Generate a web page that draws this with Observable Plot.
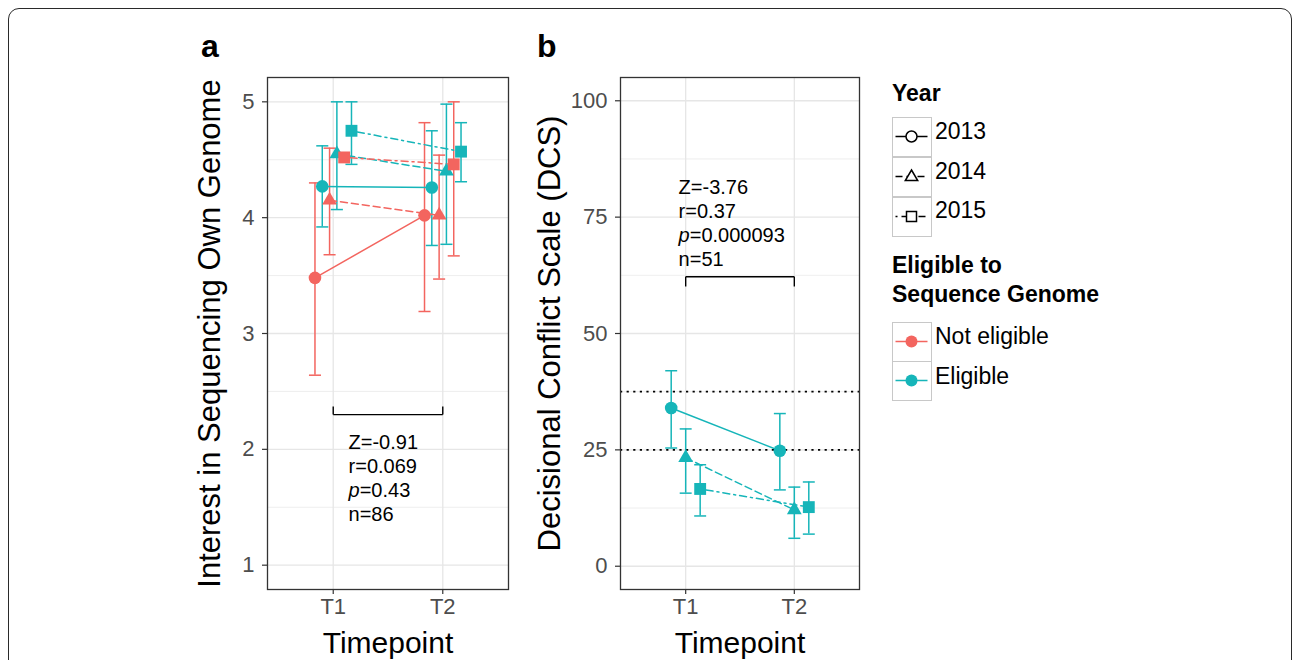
<!DOCTYPE html>
<html>
<head>
<meta charset="utf-8">
<script src="https://cdn.jsdelivr.net/npm/d3@7"></script>
<script src="https://cdn.jsdelivr.net/npm/@observablehq/plot@0.6"></script>
<style>
  html, body { margin: 0; padding: 0; background: #fff; }
  body { width: 1296px; height: 660px; position: relative; overflow: hidden; font-family: "Liberation Sans", Arial, sans-serif; }
  .frame { position: absolute; left: 8px; top: 8px; width: 1284px; height: 720px; border: 1.6px solid #2a2a2a; border-radius: 11px; box-sizing: border-box; }
  .abs { position: absolute; white-space: nowrap; }
  .panel-label { font-weight: bold; font-size: 32px; line-height: 32px; color: #000; }
  .leg-title { font-weight: bold; font-size: 23px; line-height: 29px; color: #000; }
  .leg-text { font-size: 23px; line-height: 23px; color: #000; }
  .key { position: absolute; box-sizing: border-box; border: 1.5px solid #c8c8c8; background: #fff; }
</style>
</head>
<body>
<div class="frame"></div>
<div id="panelA" class="abs" style="left:180px; top:60px;"></div>
<div id="panelB" class="abs" style="left:520px; top:60px;"></div>
<div id="legend"></div>
<script>
// ---------------- data ----------------
const timepoints = ["T1", "T2"];
const years = [2013, 2014, 2015];
const groups = ["Not eligible", "Eligible"];

// Panel a: Interest in sequencing own genome, rows = year (2013, 2014, 2015), cols = [T1, T2]
const aNotMean  = [[3.48, 4.02], [4.15, 4.02], [4.52, 4.46]];
const aNotLo    = [[2.64, 3.19], [3.68, 3.47], [null, 3.67]];
const aNotHi    = [[4.30, 4.82], [4.60, 4.54], [null, 5.00]];
const aEligMean = [[4.27, 4.26], [4.55, 4.40], [4.75, 4.57]];
const aEligLo   = [[3.92, 3.76], [4.07, 3.77], [4.46, 4.31]];
const aEligHi   = [[4.62, 4.75], [5.00, 4.98], [5.00, 4.82]];

// Panel b: Decisional Conflict Scale (eligible only)
const bEligMean = [[34.0, 24.8], [23.3, 12.1], [16.6, 12.7]];
const bEligLo   = [[25.4, 16.4], [15.7, 6.0], [10.8, 6.9]];
const bEligHi   = [[42.0, 32.8], [29.5, 17.0], [21.8, 18.1]];

// annotations
const annotA = ["Z=-0.91", "r=0.069", "p=0.43", "n=86"];
const annotB = ["Z=-3.76", "r=0.37", "p=0.000093", "n=51"];
const bracketA = {level: 2.30, tip: 2.37, textX: 1.14, textY: 1.76};
const bracketB = {level: 62.2, tip: 60.1, textX: 0.935, textY: 73.9};
const dcsRefLines = [25, 37.5];

const yTicksA = [1, 2, 3, 4, 5];
const yMinorA = [1.5, 2.5, 3.5, 4.5];
const yTicksB = [0, 25, 50, 75, 100];
const yMinorB = [12.5, 37.5, 62.5, 87.5];

// ---------------- styling ----------------
const red = "#F3655F", teal = "#16B5B9";
const yearDash = {2013: null, 2014: "7,4", 2015: "2,4,7,4"};
const yearSymbol = {2013: "circle", 2014: "triangle", 2015: "square"};
const yearR = {2013: 6.3, 2014: 5.5, 2015: 6.7};
const FONT = "'Liberation Sans', Arial, Helvetica, sans-serif";

function buildRows(mean, lo, hi, group) {
  const rows = [];
  years.forEach((yr, yi) => {
    [0, 1].forEach(ti => {
      rows.push({year: yr, yi, time: ti + 1, group, gi: groups.indexOf(group),
                 mean: mean[yi][ti], lo: lo[yi][ti], hi: hi[yi][ti]});
    });
  });
  return rows;
}

const rowsA = buildRows(aNotMean, aNotLo, aNotHi, "Not eligible")
  .concat(buildRows(aEligMean, aEligLo, aEligHi, "Eligible"));
rowsA.forEach(d => { const idx = d.yi * 2 + d.gi; d.xd = d.time + (idx - 2.5) * (0.4 / 6); });
const rowsB = buildRows(bEligMean, bEligLo, bEligHi, "Eligible");
rowsB.forEach(d => { d.xd = d.time + (d.yi - 1) * (0.4 / 3); });

const CAP = 0.055;

function panel({rows, yDomain, yTicks, yMinor, yTitle, titleDx, marginLeft, plotWidth, annot, bracket, extra = []}) {
  const withErr = rows.filter(d => d.lo != null && d.hi != null);
  const marks = [
    Plot.gridY(yMinor, {stroke: "#ececec", strokeWidth: 0.9, strokeOpacity: 1}),
    Plot.gridY(yTicks, {stroke: "#e6e6e6", strokeWidth: 1.3, strokeOpacity: 1}),
    Plot.gridX([1, 2], {stroke: "#e6e6e6", strokeWidth: 1.3, strokeOpacity: 1}),
    ...extra,
    // bracket
    Plot.link([bracket], {x1: 1, x2: 2, y1: "level", y2: "level", stroke: "#000", strokeWidth: 1.4}),
    Plot.link([bracket, bracket], {x1: (d, i) => i + 1, x2: (d, i) => i + 1, y1: "level", y2: "tip", stroke: "#000", strokeWidth: 1.4}),
    Plot.text([annot.join("\n")], {x: bracket.textX, y: bracket.textY, textAnchor: "start", lineAnchor: "middle", lineHeight: 1.2, fontSize: 20, fill: "#000"}),
    // error bars
    Plot.ruleX(withErr, {x: "xd", y1: "lo", y2: "hi", stroke: "group", strokeWidth: 1.5}),
    Plot.link(withErr, {x1: d => d.xd - CAP, x2: d => d.xd + CAP, y1: "hi", y2: "hi", stroke: "group", strokeWidth: 1.5}),
    Plot.link(withErr, {x1: d => d.xd - CAP, x2: d => d.xd + CAP, y1: "lo", y2: "lo", stroke: "group", strokeWidth: 1.5}),
  ];
  years.forEach(yr => {
    marks.push(Plot.line(rows.filter(d => d.year === yr), {x: "xd", y: "mean", z: "group", stroke: "group", strokeWidth: 1.5, strokeDasharray: yearDash[yr]}));
  });
  years.forEach(yr => {
    marks.push(Plot.dot(rows.filter(d => d.year === yr), {x: "xd", y: "mean", fill: "group", symbol: yearSymbol[yr], r: yearR[yr], stroke: "none"}));
  });
  marks.push(
    Plot.frame({stroke: "#333", strokeWidth: 1.3}),
    Plot.axisY(yTicks, {tickSize: 5, tickFormat: () => "", stroke: "#333", strokeWidth: 1.2, label: null}),
    Plot.axisY(yTicks, {tickSize: 0, tickPadding: 13, fontSize: 22, fill: "#4d4d4d", tickFormat: d => String(d), label: null}),
    Plot.axisX([1, 2], {tickSize: 5, tickFormat: () => "", stroke: "#333", strokeWidth: 1.2, label: null}),
    Plot.axisX([1, 2], {tickSize: 0, tickPadding: 9, fontSize: 22, fill: "#4d4d4d", tickFormat: d => timepoints[d - 1], label: null}),
    Plot.text([yTitle], {frameAnchor: "left", textAnchor: "middle", rotate: -90, dx: titleDx, fontSize: 31, fill: "#000", lineAnchor: "middle"}),
    Plot.text(["Timepoint"], {frameAnchor: "bottom", textAnchor: "middle", dy: 54, fontSize: 30, fill: "#000", lineAnchor: "middle"})
  );
  const svg = Plot.plot({
    width: marginLeft + plotWidth + 5,
    height: 600,
    marginTop: 17, marginBottom: 71, marginLeft, marginRight: 5,
    style: {fontFamily: FONT, background: "transparent", overflow: "visible"},
    x: {type: "linear", domain: [0.4, 2.6]},
    y: {domain: yDomain},
    color: {domain: groups, range: [red, teal]},
    marks
  });
  // italic "p"
  const ns = "http://www.w3.org/2000/svg";
  svg.querySelectorAll("text, tspan").forEach(el => {
    if (el.childElementCount === 0 && /^p=/.test(el.textContent)) {
      const rest = el.textContent.slice(1);
      el.textContent = "";
      const it = document.createElementNS(ns, "tspan");
      it.setAttribute("font-style", "italic");
      it.textContent = "p";
      el.appendChild(it);
      el.appendChild(document.createTextNode(rest));
    }
  });
  return svg;
}

document.getElementById("panelA").appendChild(panel({
  rows: rowsA, yDomain: [0.79, 5.21], yTicks: yTicksA, yMinor: yMinorA,
  yTitle: "Interest in Sequencing Own Genome", titleDx: -57, marginLeft: 87, plotWidth: 241,
  annot: annotA, bracket: bracketA
}));

document.getElementById("panelB").appendChild(panel({
  rows: rowsB, yDomain: [-5, 105], yTicks: yTicksB, yMinor: yMinorB,
  yTitle: "Decisional Conflict Scale (DCS)", titleDx: -70, marginLeft: 100, plotWidth: 239,
  annot: annotB, bracket: bracketB,
  extra: [Plot.ruleY(dcsRefLines, {stroke: "#000", strokeWidth: 1.7, strokeDasharray: "2.2,4.4"})]
}));

// ---------------- panel letters & legend ----------------
const body = document.body;
function addDiv(cls, text, left, top) {
  const d = document.createElement("div");
  d.className = "abs " + cls;
  d.style.left = left + "px"; d.style.top = top + "px";
  d.textContent = text;
  body.appendChild(d);
  return d;
}
addDiv("panel-label", "a", 201, 30);
addDiv("panel-label", "b", 537, 30);

addDiv("leg-title", "Year", 892, 79);
const yearKeyTops = [117, 157, 196.5];
const yearLabelCenters = [131.7, 171.3, 210.5];
const ns = "http://www.w3.org/2000/svg";
function keyBox(top, draw) {
  const k = document.createElement("div");
  k.className = "key";
  k.style.left = "892px"; k.style.top = top + "px";
  k.style.width = "39.5px"; k.style.height = "40px";
  const s = document.createElementNS(ns, "svg");
  s.setAttribute("width", "37"); s.setAttribute("height", "37");
  s.style.position = "absolute"; s.style.left = "0px"; s.style.top = "0px";
  draw(s);
  k.appendChild(s);
  body.appendChild(k);
}
function el(tag, attrs) {
  const e = document.createElementNS(ns, tag);
  for (const k in attrs) if (attrs[k] != null) e.setAttribute(k, attrs[k]);
  return e;
}
years.forEach((yr, i) => {
  keyBox(yearKeyTops[i], s => {
    s.appendChild(el("line", {x1: 2.5, x2: 34.5, y1: 18.5, y2: 18.5, stroke: "#000", "stroke-width": 1.5, "stroke-dasharray": yearDash[yr]}));
    const shape = yearSymbol[yr];
    if (shape === "circle") s.appendChild(el("circle", {cx: 18.5, cy: 18.5, r: 5.5, fill: "#fff", stroke: "#000", "stroke-width": 1.5}));
    if (shape === "triangle") s.appendChild(el("path", {d: "M18.5,12 L24.7,22.5 L12.3,22.5 Z", fill: "#fff", stroke: "#000", "stroke-width": 1.5}));
    if (shape === "square") s.appendChild(el("rect", {x: 13.5, y: 13.5, width: 10, height: 10, fill: "#fff", stroke: "#000", "stroke-width": 1.5}));
  });
  addDiv("leg-text", String(yr), 935, yearLabelCenters[i] - 11.3);
});

const t2 = addDiv("leg-title", "", 892, 251);
t2.innerHTML = "Eligible to<br>Sequence Genome";
const eligKeyTops = [321.7, 361];
const eligLabelCenters = [336.5, 376];
groups.forEach((g, i) => {
  const c = [red, teal][i];
  keyBox(eligKeyTops[i], s => {
    s.appendChild(el("line", {x1: 2.5, x2: 34.5, y1: 18.5, y2: 18.5, stroke: c, "stroke-width": 1.6}));
    s.appendChild(el("circle", {cx: 18.5, cy: 18.5, r: 6, fill: c}));
  });
  addDiv("leg-text", g, 935, eligLabelCenters[i] - 11.3);
});
</script>
</body>
</html>
